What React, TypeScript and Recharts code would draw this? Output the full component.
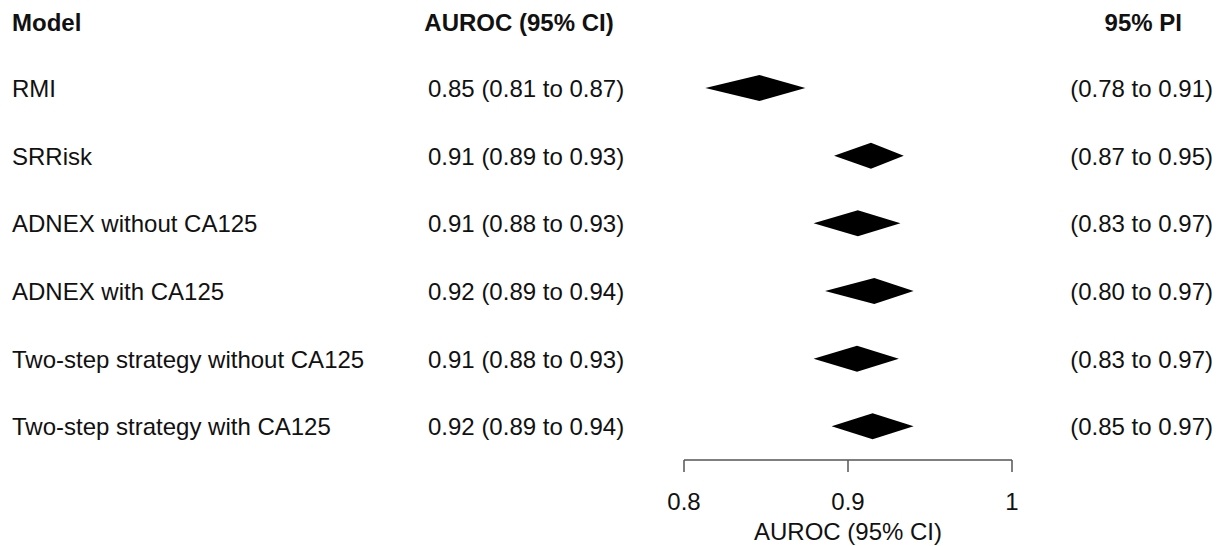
import { Bar, BarChart, XAxis, YAxis } from "recharts";

const models = [
  "RMI",
  "SRRisk",
  "ADNEX without CA125",
  "ADNEX with CA125",
  "Two-step strategy without CA125",
  "Two-step strategy with CA125",
];
// Diamond positions (AUROC scale).
const lower = [0.813, 0.8915, 0.879, 0.886, 0.879, 0.89];
const estimate = [0.846, 0.914, 0.906, 0.916, 0.9055, 0.915];
const upper = [0.874, 0.934, 0.932, 0.94, 0.931, 0.94];
const ciLabels = [
  "0.85 (0.81 to 0.87)",
  "0.91 (0.89 to 0.93)",
  "0.91 (0.88 to 0.93)",
  "0.92 (0.89 to 0.94)",
  "0.91 (0.88 to 0.93)",
  "0.92 (0.89 to 0.94)",
];
const piLabels = [
  "(0.78 to 0.91)",
  "(0.87 to 0.95)",
  "(0.83 to 0.97)",
  "(0.80 to 0.97)",
  "(0.83 to 0.97)",
  "(0.85 to 0.97)",
];
const xTicks = [0.8, 0.9, 1];

const FONT = "'Liberation Sans', Arial, Helvetica, sans-serif";

const data = models.map((m, i) => ({
  model: m,
  range: [lower[i], upper[i]],
  est: estimate[i],
  lo: lower[i],
  hi: upper[i],
  ci: ciLabels[i],
  pi: piLabels[i],
}));

function Diamond(props: any) {
  const { x, y, width, height, payload } = props;
  if (width == null || !payload) return null;
  const xe = x + (width * (payload.est - payload.lo)) / (payload.hi - payload.lo);
  const cy = y + height / 2;
  const pts = `${x},${cy} ${xe},${y} ${x + width},${cy} ${xe},${y + height}`;
  return <polygon points={pts} fill="#000" />;
}

function RowTick(props: any) {
  const { y, payload } = props;
  const row = data.find((d) => d.model === payload.value);
  if (!row) return null;
  return (
    <g fontFamily={FONT} fontSize={24} fill="#111">
      <text x={12} y={y} dy={9}>{row.model}</text>
      <text x={428} y={y} dy={9}>{row.ci}</text>
      <text x={1213} y={y} dy={9} textAnchor="end">{row.pi}</text>
    </g>
  );
}

export default function App() {
  return (
    <div style={{ position: "absolute", left: 0, top: 0, width: 1226, height: 546, background: "#fff" }}>
      <svg
        width={1226}
        height={50}
        style={{ position: "absolute", left: 0, top: 0 }}
        fontFamily={FONT}
        fontSize={24}
        fontWeight="bold"
        fill="#111"
      >
        <text x={12} y={31}>Model</text>
        <text x={519} y={31} textAnchor="middle">AUROC (95% CI)</text>
        <text x={1182} y={31} textAnchor="end">95% PI</text>
      </svg>
      <BarChart
        width={1226}
        height={546}
        data={data}
        layout="vertical"
        margin={{ top: 54, right: 214, bottom: 0, left: 0 }}
        barSize={26}
      >
        <XAxis
          type="number"
          domain={[0.8, 1]}
          ticks={xTicks}
          tickFormatter={(v) => String(v)}
          height={86}
          axisLine={{ stroke: "#555", strokeWidth: 1.5 }}
          tickLine={{ stroke: "#555", strokeWidth: 1.5 }}
          tickSize={12}
          tickMargin={21}
          tick={{ fontSize: 24, fill: "#111", fontFamily: FONT }}
          label={{
            value: "AUROC (95% CI)",
            position: "insideBottom",
            offset: 6,
            fontSize: 24,
            fill: "#111",
            fontFamily: FONT,
          }}
        />
        <YAxis
          type="category"
          dataKey="model"
          width={684}
          axisLine={false}
          tickLine={false}
          interval={0}
          tick={<RowTick />}
        />
        <Bar dataKey="range" shape={<Diamond />} isAnimationActive={false} />
      </BarChart>
    </div>
  );
}
